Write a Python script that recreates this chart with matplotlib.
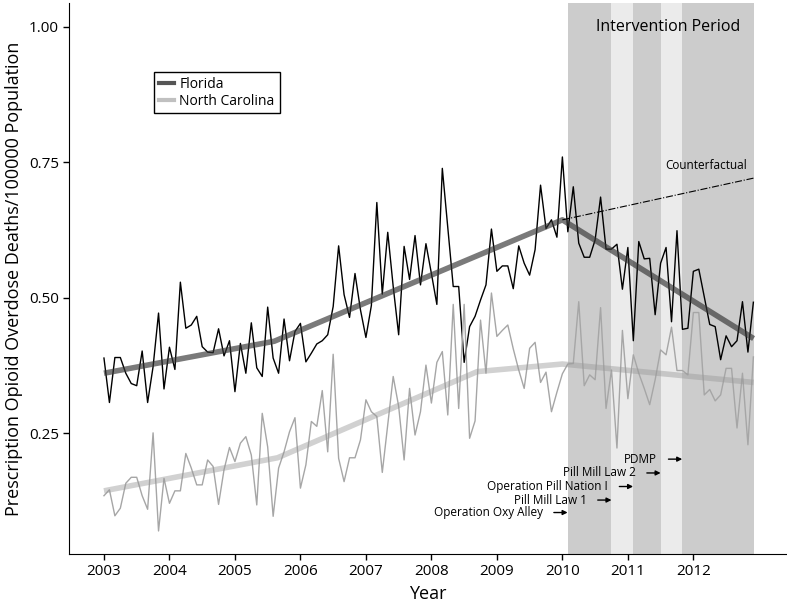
import matplotlib.pyplot as plt
import numpy as np

plt.rcParams['font.family'] = ['Open Sans', 'DejaVu Sans']

# monthly rates, Jan 2003 - Dec 2012
florida = [0.389, 0.307, 0.390, 0.390, 0.361, 0.342, 0.338, 0.402, 0.307, 0.373, 0.472, 0.332,
           0.409, 0.368, 0.529, 0.444, 0.450, 0.466, 0.410, 0.400, 0.399, 0.443, 0.393, 0.421,
           0.327, 0.416, 0.361, 0.454, 0.371, 0.355, 0.483, 0.389, 0.361, 0.461, 0.384, 0.438,
           0.453, 0.382, 0.398, 0.415, 0.421, 0.432, 0.484, 0.596, 0.506, 0.464, 0.545, 0.478,
           0.427, 0.486, 0.676, 0.507, 0.621, 0.521, 0.432, 0.595, 0.534, 0.615, 0.524, 0.600,
           0.545, 0.488, 0.739, 0.630, 0.521, 0.521, 0.381, 0.447, 0.466, 0.496, 0.524, 0.627,
           0.549, 0.559, 0.559, 0.517, 0.596, 0.564, 0.542, 0.589, 0.708, 0.628, 0.644, 0.612,
           0.760, 0.622, 0.705, 0.601, 0.575, 0.575, 0.607, 0.686, 0.590, 0.590, 0.599, 0.516,
           0.593, 0.421, 0.604, 0.572, 0.573, 0.469, 0.564, 0.593, 0.456, 0.624, 0.442, 0.444,
           0.549, 0.553, 0.502, 0.451, 0.447, 0.386, 0.430, 0.410, 0.421, 0.493, 0.400, 0.492]
carolina = [0.135, 0.146, 0.098, 0.112, 0.158, 0.169, 0.169, 0.135, 0.110, 0.251, 0.070, 0.167,
            0.121, 0.144, 0.144, 0.213, 0.186, 0.155, 0.155, 0.201, 0.189, 0.119, 0.183, 0.224,
            0.198, 0.232, 0.244, 0.210, 0.118, 0.287, 0.225, 0.097, 0.186, 0.216, 0.253, 0.279,
            0.149, 0.192, 0.272, 0.263, 0.329, 0.216, 0.396, 0.204, 0.161, 0.205, 0.205, 0.238,
            0.312, 0.290, 0.281, 0.178, 0.266, 0.355, 0.300, 0.201, 0.333, 0.247, 0.290, 0.376,
            0.306, 0.381, 0.401, 0.284, 0.488, 0.296, 0.488, 0.241, 0.273, 0.459, 0.361, 0.509,
            0.429, 0.440, 0.450, 0.406, 0.367, 0.333, 0.407, 0.418, 0.344, 0.363, 0.290, 0.326,
            0.360, 0.378, 0.379, 0.493, 0.338, 0.358, 0.349, 0.482, 0.296, 0.367, 0.223, 0.440,
            0.314, 0.395, 0.361, 0.333, 0.303, 0.349, 0.404, 0.395, 0.446, 0.366, 0.366, 0.358,
            0.473, 0.473, 0.321, 0.331, 0.310, 0.321, 0.370, 0.370, 0.260, 0.361, 0.229, 0.391]
meses = 2003 + np.arange(len(florida)) / 12

# fitted trends (segmented)
fl_tx = [2003.0, 2005.6, 2010.0, 2012.92]
fl_ty = [0.361, 0.420, 0.644, 0.425]
nc_tx = [2003.0, 2005.65, 2008.7, 2010.0, 2012.92]
nc_ty = [0.144, 0.205, 0.364, 0.378, 0.344]
cf_x = [2010.0, 2012.92]
cf_y = [0.644, 0.721]

# intervention bands (start, end, dark?)
bandas = [(2010.08, 2010.75, True), (2010.75, 2011.08, False), (2011.08, 2011.5, True),
          (2011.5, 2011.83, False), (2011.83, 2012.93, True)]

eventos = ['Operation Oxy Alley', 'Pill Mill Law 1', 'Operation Pill Nation I', 'Pill Mill Law 2', 'PDMP']
ev_x = [2010.08, 2010.75, 2011.08, 2011.5, 2011.83]
ev_y = [0.104, 0.127, 0.152, 0.177, 0.2025]

fig = plt.figure(figsize=(7.87, 6.10), dpi=100)
ax = fig.add_axes([0.088, 0.092, 0.912, 0.903])

for x0, x1, oscuro in bandas:
    ax.axvspan(x0, x1, color='#cccccc' if oscuro else '#ebebeb', lw=0, zorder=0)

ax.plot(meses, florida, color='black', lw=1, zorder=2)
ax.plot(meses, carolina, color='#a6a6a6', lw=1, zorder=2)
ax.plot(fl_tx, fl_ty, color='#333333', alpha=0.65, lw=4, solid_capstyle='butt', zorder=3)
ax.plot(nc_tx, nc_ty, color='#999999', alpha=0.45, lw=4, solid_capstyle='butt', zorder=3)
ax.plot(cf_x, cf_y, color='black', lw=0.8, linestyle='-.', zorder=3)

# legend
ax.plot([], [], color='#555555', lw=3, label='Florida')
ax.plot([], [], color='#c0c0c0', lw=3, label='North Carolina')
leg = ax.legend(handles=ax.lines[-2:], loc='upper left', bbox_to_anchor=(0.108, 0.888),
                fontsize=10, handlelength=1.1, handletextpad=0.4, borderpad=0.35,
                labelspacing=0.15, fancybox=False, framealpha=1)
leg.get_frame().set_edgecolor('black')
leg.get_frame().set_linewidth(1)

for nombre, x, y in zip(eventos, ev_x, ev_y):
    ax.annotate('', xy=(x, y), xytext=(x - 0.21, y),
                arrowprops=dict(arrowstyle='-|>', color='black', lw=1, mutation_scale=7,
                                shrinkA=0, shrinkB=0))
    ax.text(x - 0.38, y, nombre, ha='right', va='center', fontsize=8.5)

ax.text(2011.62, 1.0, 'Intervention Period', ha='center', va='center', fontsize=11.5)
ax.text(2012.2, 0.744, 'Counterfactual', ha='center', va='center', fontsize=8.5)

ax.set_xlim(2002.47, 2013.43)
ax.set_ylim(0.0277, 1.044)
ax.set_xticks(range(2003, 2013))
ax.set_yticks([0.25, 0.50, 0.75, 1.00])
ax.set_yticklabels(['0.25', '0.50', '0.75', '1.00'])
ax.tick_params(labelsize=11, length=4, width=1, direction='out')
ax.spines['top'].set_visible(False)
ax.spines['right'].set_visible(False)
ax.set_xlabel('Year', fontsize=13)
ax.set_ylabel('Prescription Opioid Overdose Deaths/100000 Population', fontsize=13)

plt.savefig('out.png', dpi=100)
